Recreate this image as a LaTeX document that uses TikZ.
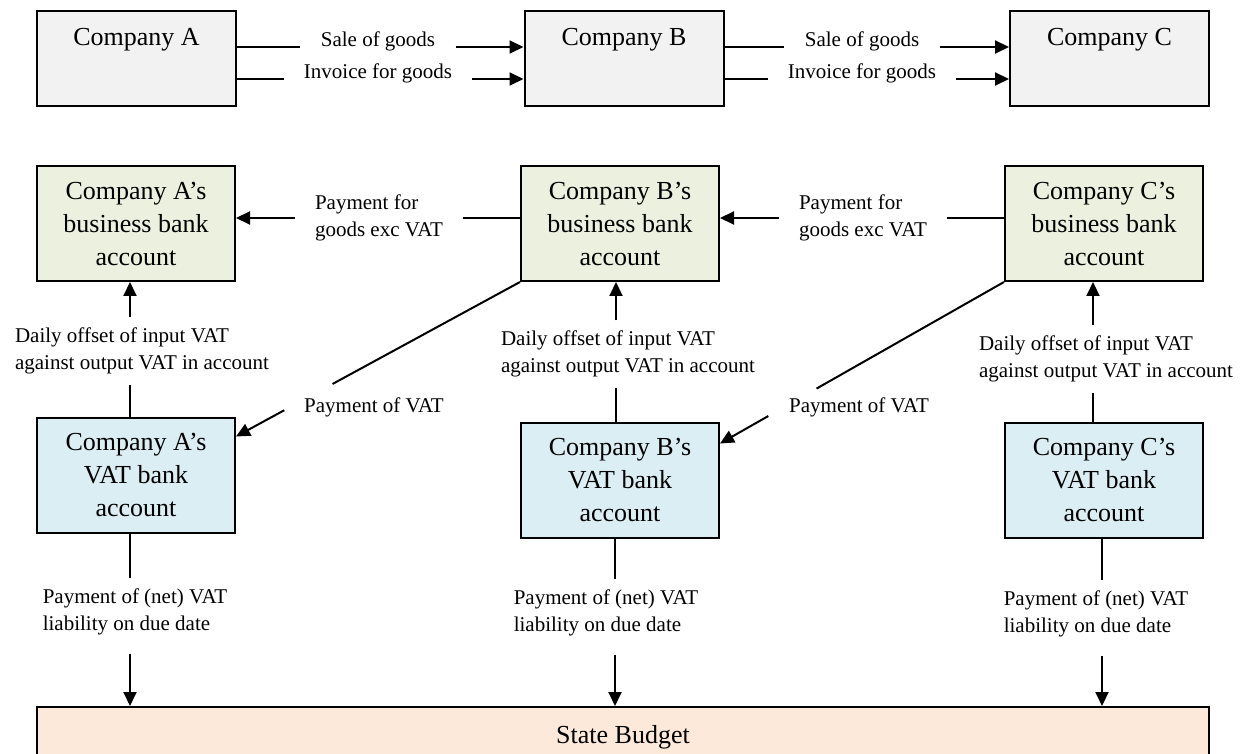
\documentclass[tikz,border=0pt]{standalone}
\usepackage{fontspec}
\setmainfont{Liberation Serif}
\usetikzlibrary{arrows.meta,calc}
\definecolor{firmgrey}{HTML}{F2F2F2}
\definecolor{bizgreen}{HTML}{EBF1DE}
\definecolor{vatblue}{HTML}{DAEEF3}
\definecolor{budgetpeach}{HTML}{FDE9D9}
\tikzset{
  firm/.style={
    draw=black,
    line width=1pt,
    fill=firmgrey,
    minimum width=99.5pt,
    inner ysep=0pt,
    text height=17.5pt,
    text depth=30pt,
    font=\fontsize{13}{16.5}\selectfont
  },
  bizacc/.style={
    draw=black,
    line width=1pt,
    fill=bizgreen,
    minimum width=99pt,
    minimum height=57.5pt,
    align=center,
    font=\fontsize{13}{16.5}\selectfont
  },
  vatacc/.style={
    bizacc,
    fill=vatblue
  },
  budget/.style={
    draw=black,
    line width=1pt,
    fill=budgetpeach,
    minimum width=586pt,
    minimum height=30pt,
    font=\fontsize{13}{16.5}\selectfont
  },
  flowlabel/.style={
    align=left,
    inner xsep=10pt,
    inner ysep=5pt,
    font=\fontsize{10.5}{13.5}\selectfont
  },
  arr/.style={
    line width=1pt,
    -{Triangle[length=7pt,width=6.5pt]}
  }
}

\begin{document}
\begin{tikzpicture}[x=0.5pt,y=-0.5pt]
  \useasboundingbox (0,0) rectangle (1248,754);

  % companies and the flow of goods
  \node[firm] (firmA) at (136.5,58.5) {Company A};
  \node[firm] (firmB) at (624,58.5) {Company B};
  \node[firm] (firmC) at (1109.5,58.5) {Company C};

  \node[flowlabel, anchor=base] (saleAB) at (378,47) {Sale of goods};
  \node[flowlabel, anchor=base] (invAB) at (378,79) {Invoice for goods};
  \node[flowlabel, anchor=base] (saleBC) at (862,47) {Sale of goods};
  \node[flowlabel, anchor=base] (invBC) at (862,79) {Invoice for goods};

  \draw[line width=1pt] (firmA.east |- saleAB.base west) -- (saleAB.base west);
  \draw[arr] (saleAB.base east) -- (firmB.west |- saleAB.base east);
  \draw[line width=1pt] (firmA.east |- invAB.base west) -- (invAB.base west);
  \draw[arr] (invAB.base east) -- (firmB.west |- invAB.base east);
  \draw[line width=1pt] (firmB.east |- saleBC.base west) -- (saleBC.base west);
  \draw[arr] (saleBC.base east) -- (firmC.west |- saleBC.base east);
  \draw[line width=1pt] (firmB.east |- invBC.base west) -- (invBC.base west);
  \draw[arr] (invBC.base east) -- (firmC.west |- invBC.base east);

  % business bank accounts
  \node[bizacc] (bizA) at (136,223.5) {Company A’s\\business bank\\account};
  \node[bizacc] (bizB) at (620,223.5) {Company B’s\\business bank\\account};
  \node[bizacc] (bizC) at (1104,223.5) {Company C’s\\business bank\\account};

  \node[flowlabel] (payAB) at (379,218) {Payment for\\goods exc VAT};
  \node[flowlabel] (payBC) at (863,218) {Payment for\\goods exc VAT};
  \draw[arr] (payAB.west) -- (bizA.east |- payAB.west);
  \draw[line width=1pt] (bizB.west |- payAB.east) -- (payAB.east);
  \draw[arr] (payBC.west) -- (bizB.east |- payBC.west);
  \draw[line width=1pt] (bizC.west |- payBC.east) -- (payBC.east);

  % VAT bank accounts
  \node[vatacc] (vatA) at (136,475) {Company A’s\\VAT bank\\account};
  \node[vatacc] (vatB) at (620,480) {Company B’s\\VAT bank\\account};
  \node[vatacc] (vatC) at (1104,480) {Company C’s\\VAT bank\\account};

  \node[flowlabel] (offA) at (142,351) {Daily offset of input VAT\\against output VAT in account};
  \node[flowlabel] (offB) at (628,354) {Daily offset of input VAT\\against output VAT in account};
  \node[flowlabel] (offC) at (1106,359) {Daily offset of input VAT\\against output VAT in account};
  \foreach \c/\dx in {A/-3pt,B/-2pt,C/-5.5pt} {
    \draw[arr] ($(off\c.north -| biz\c.south)+(\dx,0)$) -- ($(biz\c.south)+(\dx,0)$);
    \draw[line width=1pt] ($(off\c.south -| vat\c.north)+(\dx,0)$) -- ($(vat\c.north)+(\dx,0)$);
  }

  % VAT paid from the buyer into the seller's VAT account
  \coordinate (hitA) at ([yshift=-10pt]vatA.north east);
  \coordinate (hitB) at ([yshift=-11pt]vatB.north east);
  \node[flowlabel] (vatpayAB) at (374,407) {Payment of VAT};
  \node[flowlabel] (vatpayBC) at (859,407) {Payment of VAT};
  \draw[line width=1pt] (bizB.south west) -- ($(bizB.south west)!0.66!(hitA)$);
  \draw[arr] ($(bizB.south west)!0.83!(hitA)$) -- (hitA);
  \draw[line width=1pt] (bizC.south west) -- ($(bizC.south west)!0.66!(hitB)$);
  \draw[arr] ($(bizC.south west)!0.83!(hitB)$) -- (hitB);

  % settlement with the state
  \node[budget] (state) at (623,737) {State Budget};

  \node[flowlabel] (netA) at (135,612) {Payment of (net) VAT\\liability on due date};
  \node[flowlabel] (netB) at (606,613) {Payment of (net) VAT\\liability on due date};
  \node[flowlabel] (netC) at (1096,614) {Payment of (net) VAT\\liability on due date};
  \foreach \c/\dx in {A/-3pt,B/-2.5pt,C/-1pt} {
    \draw[line width=1pt] ($(vat\c.south)+(\dx,0)$) -- ($(net\c.north -| vat\c.south)+(\dx,0)$);
    \draw[arr] ($(net\c.south -| vat\c.south)+(\dx,-4pt)$) -- ($(state.north -| vat\c.south)+(\dx,0)$);
  }
\end{tikzpicture}
\end{document}
